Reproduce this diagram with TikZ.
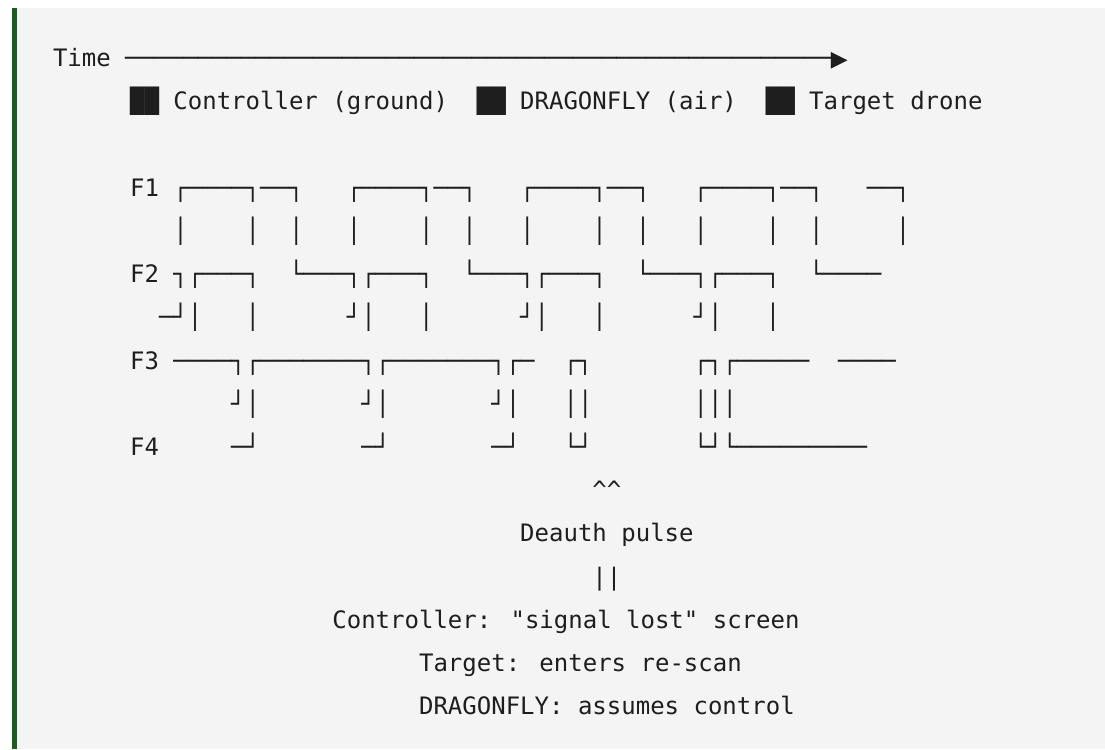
\documentclass[tikz,border=0pt]{standalone}
\usepackage{fontspec}
\newfontfamily\dvm{DejaVu Sans Mono}
\newfontfamily\dvs{DejaVu Sans}
\definecolor{bg}{HTML}{F4F4F4}
\definecolor{bar}{HTML}{1B5E20}
\definecolor{ink}{HTML}{1E1E1E}
\newcommand\sk[1]{\hspace*{#1\dimexpr 10.8369pt\relax}}
\newcommand\dten{─────{}─────}
\newcommand\gline[4]{\node[txt] (#1) at ({130.1+#3*14.449},{66.7+#2*43.2}) {#4};}
\newcommand\tri{\makebox[10.8369pt][l]{\hspace*{-1.8pt}\dvs\fontsize{16.5pt}{16.5pt}\selectfont ▶}}
\tikzset{txt/.style={anchor=base west, inner sep=0pt, outer sep=0pt, text=ink,
  font=\dvm\fontsize{18pt}{18pt}\selectfont}}
\begin{document}
\begin{tikzpicture}[x=0.75pt,y=-0.75pt]
\useasboundingbox (0,0) rectangle (1105,749);
\fill[white] (0,0) rectangle (1105,749);
\fill[bg] (11.5,8.5) rectangle (1105,749);
\fill[bar] (11.5,8.5) rectangle (16.8,749);
% time axis: 49 dashes then a triangle
\node[txt] (time) at (53,66.7) {Time \dten\dten\dten\dten────{}─────\tri};
% legend
\gline{legend}{1}{0}{██ Controller (ground)\sk{2}██ DRAGONFLY (air)\sk{2}██ Target drone}
% waveforms
\gline{f1}{3}{0}{F1 ┌────┐──┐\sk{3}┌────┐──┐\sk{3}┌────┐──┐\sk{3}┌────┐──┐\sk{3}──┐}
\gline{r4}{4}{0}{\sk{3}│\sk{4}│\sk{2}│\sk{3}│\sk{4}│\sk{2}│\sk{3}│\sk{4}│\sk{2}│\sk{3}│\sk{4}│\sk{2}│\sk{5}│}
\gline{f2}{5}{0}{F2 ┐┌───┐\sk{2}└───┐┌───┐\sk{2}└───┐┌───┐\sk{2}└───┐┌───┐\sk{2}└────}
\gline{r6}{6}{0}{\sk{2}─┘│\sk{3}│\sk{6}┘│\sk{3}│\sk{6}┘│\sk{3}│\sk{6}┘│\sk{3}│}
\gline{f3}{7}{0}{F3 ────┐┌───────┐┌───────┐┌─\sk{2}┌┐\sk{7}┌┐┌─────\sk{2}────}
\gline{r8}{8}{0}{\sk{7}┘│\sk{7}┘│\sk{7}┘│\sk{3}││\sk{7}│││}
\gline{f4}{9}{0}{F4\sk{5}─┘\sk{7}─┘\sk{7}─┘\sk{3}└┘\sk{7}└┘└─────────}
% notes
\gline{caret}{10}{32}{\textasciicircum\textasciicircum}
\gline{deauth}{11}{27}{Deauth pulse}
\gline{bars}{12}{32}{||}
\gline{ctrl}{13}{14}{Controller: "signal lost" screen}
\gline{tgt}{14}{20}{Target: enters re-scan}
\gline{dfly}{15}{20}{DRAGONFLY: assumes control}
\end{tikzpicture}
\end{document}
